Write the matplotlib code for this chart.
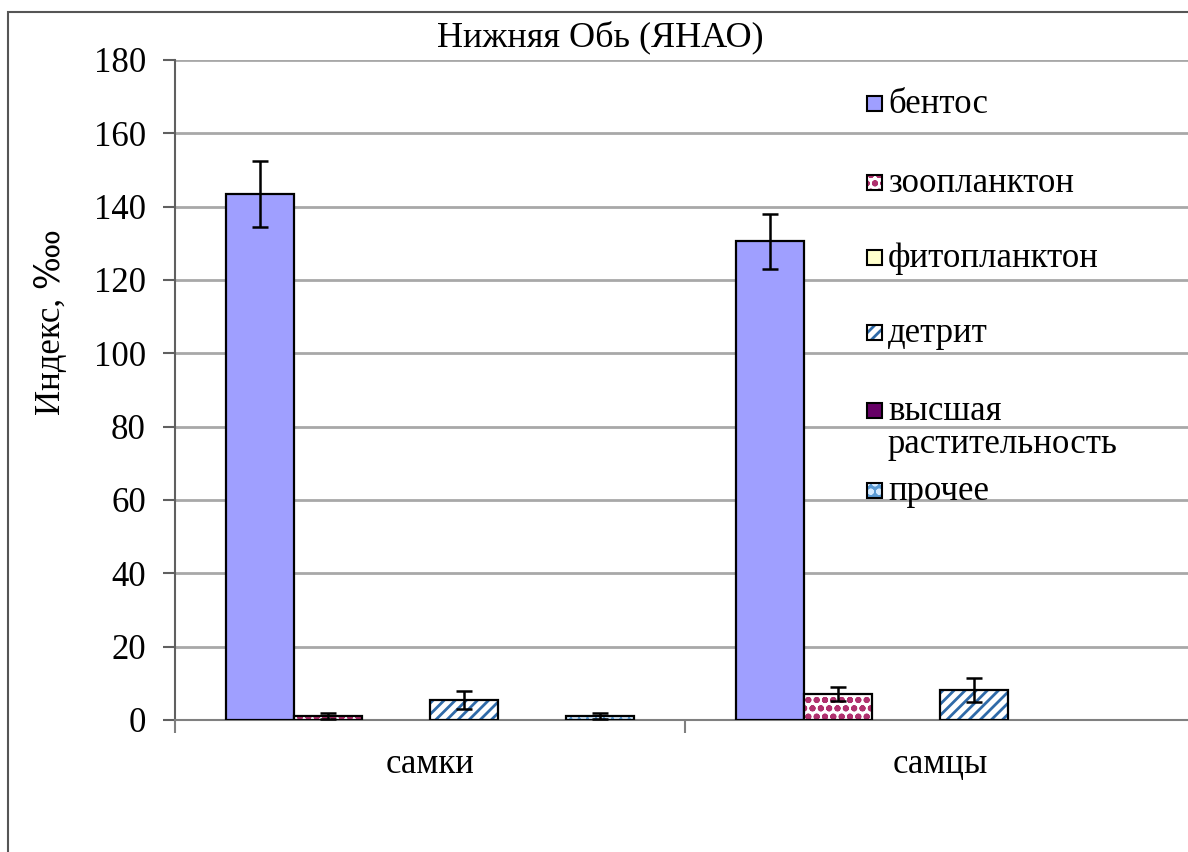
import matplotlib
matplotlib.use("Agg")
import matplotlib.pyplot as plt
import numpy as np
from matplotlib.patches import Rectangle

plt.rcParams['font.family'] = ['Liberation Serif', 'DejaVu Serif']
plt.rcParams['hatch.linewidth'] = 2.0

title = "Нижняя Обь (ЯНАО)"
categories = ["самки", "самцы"]
series = ["бентос", "зоопланктон", "фитопланктон", "детрит",
          "высшая\nрастительность", "прочее"]
values = {
    "бентос": [143.5, 130.5],
    "зоопланктон": [1.2, 7.2],
    "фитопланктон": [0.0, 0.0],
    "детрит": [5.5, 8.2],
    "высшая\nрастительность": [0.0, 0.0],
    "прочее": [1.2, 0.0],
}
errors = {
    "бентос": [9.0, 7.5],
    "зоопланктон": [0.8, 1.9],
    "фитопланктон": [0, 0],
    "детрит": [2.5, 3.3],
    "высшая\nрастительность": [0, 0],
    "прочее": [0.8, 0],
}
yticks = [0, 20, 40, 60, 80, 100, 120, 140, 160, 180]

# style: (facecolor, hatch, hatchcolor)
styles = {
    "бентос": ("#9f9fff", None, None),
    "зоопланктон": ("#ffffff", "oo", "#b0306e"),
    "фитопланктон": ("#ffffcc", None, None),
    "детрит": ("#ffffff", "///", "#2f6aa8"),
    "высшая\nрастительность": ("#660066", None, None),
    "прочее": ("#5b9bd5", "oo", "#d6ebff"),
}

W, H = 1188, 852
FS = 25
fig = plt.figure(figsize=(W / 100, H / 100), dpi=100)
fig.patch.set_facecolor("white")
# outer frame of the chart object
fig.add_artist(Rectangle((8 / W, -0.1), 1.2, 1 - 12 / H + 0.1, transform=fig.transFigure,
                         fill=False, edgecolor="#555555", linewidth=1.5))

ax = fig.add_axes([175 / W, 1 - 720 / H, 1020 / W, 660 / H])
ax.set_xlim(-0.5, len(categories) - 0.5)
ax.set_ylim(0, 180)

n = len(series)
bw = 0.8 / n
x = np.arange(len(categories))
for j, s in enumerate(series):
    pos = x - 0.4 + bw * (j + 0.5)
    fc, hatch, hc = styles[s]
    vals = np.array(values[s])
    nz = vals > 0
    if not nz.any():
        continue
    if hatch:
        ax.bar(pos[nz], vals[nz], bw, color=fc, hatch=hatch, edgecolor=hc, linewidth=0, zorder=3)
        ax.bar(pos[nz], vals[nz], bw, fill=False, edgecolor="black", linewidth=1.6, zorder=4)
    else:
        ax.bar(pos[nz], vals[nz], bw, color=fc, edgecolor="black", linewidth=1.6, zorder=3)
    errs = np.array(errors[s])
    m = errs > 0
    if m.any():
        ax.errorbar(pos[m], vals[m], yerr=errs[m],
                    fmt="none", ecolor="black", elinewidth=1.8, capsize=6, capthick=1.8, zorder=5)

ax.set_yticks(yticks)
ax.yaxis.grid(True, color="#a8a8a8", linewidth=2.0, zorder=0)
ax.set_axisbelow(True)
for side in ["top", "right"]:
    ax.spines[side].set_visible(False)
ax.spines["left"].set_color("#606060")
ax.spines["left"].set_linewidth(1.5)
ax.spines["bottom"].set_color("#808080")
ax.spines["bottom"].set_linewidth(1.5)
ax.tick_params(axis="y", length=9, width=1.5, color="#606060", labelsize=FS, pad=12)
ax.set_xticks(x)
ax.set_xticklabels(categories, fontsize=FS)
ax.tick_params(axis="x", length=0, pad=20)
ax.set_xticks([-0.5, 0.5, 1.5], minor=True)
ax.tick_params(axis="x", which="minor", length=9, width=1.5, color="#808080")

ax.set_ylabel("Индекс, ‱", fontsize=FS)
ax.yaxis.set_label_coords((68 - 175) / 1020, (720 - 322) / 660)
fig.text(600 / W, 1 - 37 / H, title, ha="center", va="center", fontsize=FS + 1)

# legend (drawn as in the original: boxed squares + labels, no frame)
leg_y = [103, 182, 257, 332, 410, 490]
for s, yy in zip(series, leg_y):
    fc, hatch, hc = styles[s]
    sq = 15
    x0, y0 = 867 / W, 1 - (yy + sq / 2) / H
    if hatch:
        fig.add_artist(Rectangle((x0, y0), sq / W, sq / H, transform=fig.transFigure,
                                 facecolor=fc, hatch=hatch, edgecolor=hc, linewidth=0))
        fig.add_artist(Rectangle((x0, y0), sq / W, sq / H, transform=fig.transFigure,
                                 fill=False, edgecolor="black", linewidth=1.5))
    else:
        fig.add_artist(Rectangle((x0, y0), sq / W, sq / H, transform=fig.transFigure,
                                 facecolor=fc, edgecolor="black", linewidth=1.5))
    fig.text(888 / W, 1 - (yy - 15) / H, s, ha="left", va="top", fontsize=FS, linespacing=1.0)

fig.savefig("out.png", dpi=100)
